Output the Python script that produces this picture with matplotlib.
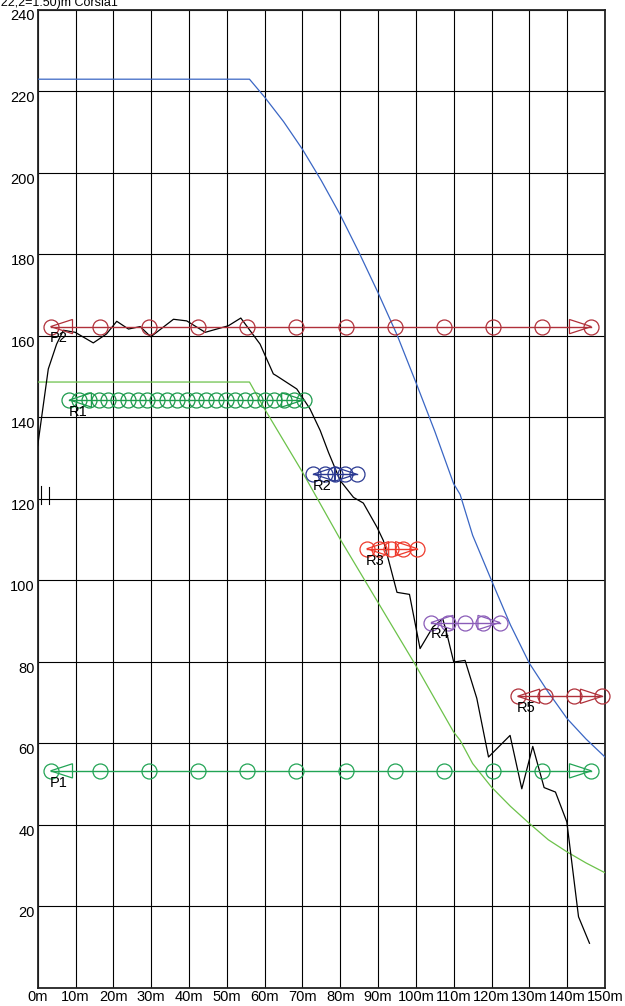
import matplotlib
matplotlib.use("Agg")
import matplotlib.pyplot as plt
from matplotlib.patches import Polygon

plt.rcParams['font.family'] = ['Liberation Sans', 'DejaVu Sans']

# ---------------- data ----------------
x_ticks = [0, 10, 20, 30, 40, 50, 60, 70, 80, 90, 100, 110, 120, 130, 140, 150]
x_tick_labels = ["0m", "10m", "20m", "30m", "40m", "50m", "60m", "70m", "80m",
                 "90m", "100m", "110m", "120m", "130m", "140m", "150m"]
y_ticks = [20, 40, 60, 80, 100, 120, 140, 160, 180, 200, 220, 240]

blue_x = [0, 56, 60, 65, 70, 75, 80, 85, 90, 95, 100, 105, 110, 110.8, 111.7,
          115, 120, 125, 130, 135, 140, 145, 150]
blue_y = [222.9, 222.9, 218.5, 212.5, 205.7, 198.0, 189.6, 180.3, 170.5, 160.2,
          148.5, 136.5, 123.6, 122.4, 121.0, 111.0, 99.9, 89.0, 79.6, 72.5,
          66.0, 61.0, 56.6]

green_x = [0, 56, 60, 70, 80, 90, 100, 110, 111.7, 115, 120, 125, 130, 135,
           140, 145, 150]
green_y = [148.6, 148.6, 142.0, 126.5, 110.0, 94.5, 79.0, 62.7, 60.7, 55.0,
           49.2, 44.5, 40.3, 36.3, 33.3, 30.6, 28.2]

black_x = [0, 2.8, 5.0, 6.8, 9.9, 14.7, 18.2, 20.9, 24.0, 27.1, 29.9, 35.9,
           39.4, 44.3, 50.4, 53.7, 58.8, 62.3, 63.2, 68.5, 72.0, 74.7, 76.9,
           80.0, 83.5, 86.1, 89.7, 91.4, 92.8, 95.0, 98.3, 101.1, 104.5, 107.1,
           108.2, 110.0, 113.0, 116.1, 119.2, 124.9, 128.0, 130.9, 133.9,
           136.9, 139.9, 143.0, 145.9]
black_y = [133.0, 151.8, 157.9, 161.3, 160.8, 158.2, 160.4, 163.5, 161.6,
           162.2, 159.7, 164.0, 163.6, 160.8, 162.4, 164.3, 157.9, 150.6,
           150.1, 146.9, 142.0, 136.7, 131.3, 124.4, 120.3, 118.9, 113.0,
           109.7, 104.8, 97.0, 96.5, 83.2, 88.5, 90.5, 86.8, 79.9, 80.3, 71.0,
           56.6, 61.9, 48.8, 59.2, 49.1, 48.0, 40.7, 17.4, 10.9]

# marker groups: name, level, circle positions, colour
p2_x = [3.4, 16.4, 29.4, 42.4, 55.4, 68.4, 81.4, 94.4, 107.4, 120.4, 133.4, 146.4]
p2_y = 162.2
r1_x = [8.4, 11.0, 13.6, 16.1, 18.7, 21.3, 23.9, 26.5, 29.0, 31.6, 34.2, 36.8,
        39.4, 41.9, 44.5, 47.1, 49.7, 52.3, 54.8, 57.4, 60.0, 62.6, 65.2,
        67.7, 70.3]
r1_y = 144.2
r2_x = [72.9, 75.9, 78.6, 81.3, 84.3]
r2_y = 126.0
r3_x = [87.0, 90.3, 93.4, 96.7, 100.4]
r3_y = 107.7
r4_x = [104.0, 108.6, 113.0, 117.8, 122.2]
r4_y = 89.6
r5_x = [126.9, 134.2, 141.9, 149.3]
r5_y = 71.5
p1_x = [3.4, 16.4, 29.4, 42.4, 55.4, 68.4, 81.4, 94.4, 107.4, 120.4, 133.4, 146.4]
p1_y = 53.2

groups = [
    ("P2", p2_x, p2_y, "#b0303a"),
    ("R1", r1_x, r1_y, "#1c9a4c"),
    ("R2", r2_x, r2_y, "#2b3a92"),
    ("R3", r3_x, r3_y, "#ee3a2c"),
    ("R4", r4_x, r4_y, "#8a5cb8"),
    ("R5", r5_x, r5_y, "#b0303a"),
    ("P1", p1_x, p1_y, "#22a455"),
]

tick_mark_x = [0.9, 3.1]
tick_mark_y = [(123.2, 118.7), (122.8, 118.7)]

# ---------------- figure ----------------
W, H, DPI = 625, 1006, 100
fig = plt.figure(figsize=(W / DPI, H / DPI), dpi=DPI)
ax = fig.add_axes([37.7 / W, (H - 987.7) / H, (605 - 37.7) / W, (987.7 - 9.5) / H])
ax.set_xlim(0, 150)
ax.set_ylim(0, 240)

ax.set_xticks(x_ticks)
ax.set_xticklabels(x_tick_labels, fontsize=10.5)
ax.set_yticks(y_ticks)
ax.set_yticklabels([str(v) for v in y_ticks], fontsize=10.5)
for t in ax.get_yticklabels():
    t.set_va('top')
ax.tick_params(axis='both', length=0, pad=2, colors='black')
ax.grid(True, color='black', linewidth=0.8)
ax.set_axisbelow(True)
for s in ax.spines.values():
    s.set_linewidth(1.3)
    s.set_color('#222222')

ax.plot(blue_x, blue_y, color='#3a66c4', lw=0.9, zorder=3)
ax.plot(green_x, green_y, color='#6cc24a', lw=0.9, zorder=3)
ax.plot(black_x, black_y, color='black', lw=0.9, zorder=4)

for xm, (y0, y1) in zip(tick_mark_x, tick_mark_y):
    ax.plot([xm, xm], [y0, y1], color='black', lw=0.8, zorder=4)

L = 5.8    # arrow length (m)
hh = 1.75  # arrow half height
for name, xs, y, col in groups:
    ax.plot([xs[0], xs[-1]], [y, y], color=col, lw=1.0, zorder=5, clip_on=False)
    ax.plot(xs, [y] * len(xs), linestyle='none', marker='o', markersize=10.8,
            markerfacecolor='none', markeredgecolor=col, markeredgewidth=0.9,
            zorder=6, clip_on=False)
    left = Polygon([[xs[0], y], [xs[0] + L, y + hh], [xs[0] + L, y - hh]],
                   closed=True, fill=False, edgecolor=col, lw=0.9, zorder=6,
                   clip_on=False)
    right = Polygon([[xs[-1], y], [xs[-1] - L, y + hh], [xs[-1] - L, y - hh]],
                    closed=True, fill=False, edgecolor=col, lw=0.9, zorder=6,
                    clip_on=False)
    ax.add_patch(left)
    ax.add_patch(right)
    ax.annotate(name, xy=(xs[0], y), xytext=(-0.5, -3.5), textcoords='offset points',
                ha='left', va='top', fontsize=10.5, color='black', zorder=7)

fig.text(118 / W, (H - 6) / H, "(1=4.22,2=1.50)m Corsia1", ha='right',
         va='baseline', fontsize=9, color='black')

fig.savefig("out.png", dpi=DPI)
